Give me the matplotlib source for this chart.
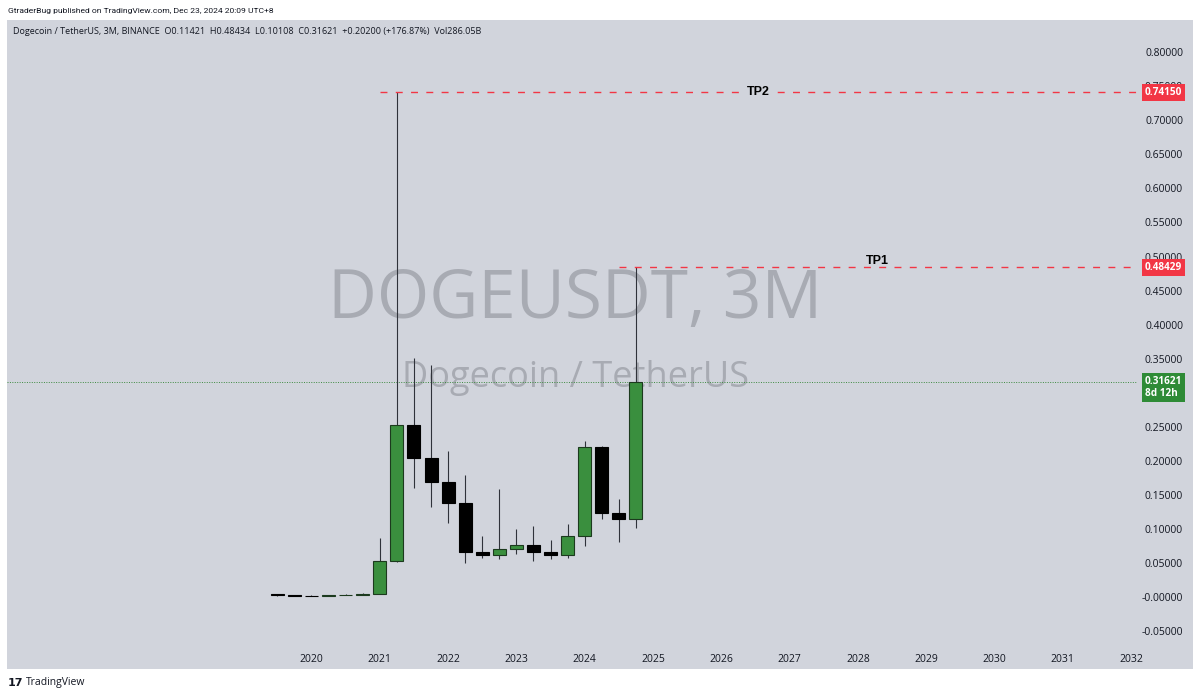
import matplotlib
matplotlib.use("Agg")
import matplotlib.pyplot as plt
import matplotlib.transforms as mtransforms
from matplotlib import font_manager

# ---------------- data ----------------
quarters = ["2019Q3", "2019Q4", "2020Q1", "2020Q2", "2020Q3", "2020Q4",
            "2021Q1", "2021Q2", "2021Q3", "2021Q4", "2022Q1", "2022Q2",
            "2022Q3", "2022Q4", "2023Q1", "2023Q2", "2023Q3", "2023Q4",
            "2024Q1", "2024Q2", "2024Q3", "2024Q4"]
opens = [0.00406, 0.00245, 0.00202, 0.00189, 0.00246, 0.00262,
         0.00470, 0.0535, 0.2530, 0.2045, 0.1693, 0.1376,
         0.0665, 0.0617, 0.0700, 0.0764, 0.0665, 0.0617,
         0.0896, 0.2207, 0.1238, 0.11421]
highs = [0.00450, 0.00290, 0.00300, 0.00290, 0.00500, 0.00580,
         0.0870, 0.7415, 0.3514, 0.3407, 0.2148, 0.1791,
         0.0896, 0.1581, 0.0999, 0.1047, 0.0837, 0.1072,
         0.2291, 0.2215, 0.1439, 0.48434]
lows = [0.00208, 0.00196, 0.00120, 0.00178, 0.00240, 0.00232,
        0.00460, 0.0515, 0.1605, 0.1317, 0.1082, 0.0504,
        0.0568, 0.0565, 0.0627, 0.0533, 0.0554, 0.0568,
        0.0753, 0.1141, 0.0812, 0.10108]
closes = [0.00245, 0.00202, 0.00189, 0.00246, 0.00262, 0.00470,
          0.0535, 0.2530, 0.2045, 0.1693, 0.1376, 0.0665,
          0.0617, 0.0700, 0.0764, 0.0665, 0.0617, 0.0896,
          0.2207, 0.1238, 0.11421, 0.31621]

year_ticks = list(range(2020, 2033))
price_ticks = [0.80, 0.75, 0.70, 0.65, 0.60, 0.55, 0.50, 0.45, 0.40,
               0.35, 0.30, 0.25, 0.20, 0.15, 0.10, 0.05, 0.0, -0.05]
price_labels = ["0.80000", "0.75000", "0.70000", "0.65000", "0.60000",
                "0.55000", "0.50000", "0.45000", "0.40000", "0.35000",
                "0.30000", "0.25000", "0.20000", "0.15000", "0.10000",
                "0.05000", "-0.00000", "-0.05000"]

tp_levels = [0.74150, 0.48429]
tp_names = ["TP2", "TP1"]
tp_anchor_quarter = ["2021Q2", "2024Q4"]
tp_text_year = [2026.54, 2028.28]
last_price = 0.31621
countdown = "8d 12h"

header_top = "GtraderBug published on TradingView.com, Dec 23, 2024 20:09 UTC+8"
header_legend = ("Dogecoin / TetherUS, 3M, BINANCE  O0.11421  H0.48434  "
                 "L0.10108  C0.31621  +0.20200 (+176.87%)  Vol286.05B")
watermark = "DOGEUSDT, 3M"
watermark_sub = "Dogecoin / TetherUS"

# ---------------- style ----------------
BG = "#d1d4dc"
GREEN = "#3a8f3e"
GREEN_EDGE = "#1c3a1e"
RED = "#f23645"
TXT = "#131722"
FONT = ["Open Sans", "DejaVu Sans"]

installed = {f.name for f in font_manager.fontManager.ttflist}
if "Liberation Sans Narrow" in installed:
    TOP_FONT, TOP_SIZE = ["Liberation Sans Narrow"], 7.0
else:
    TOP_FONT, TOP_SIZE = ["Roboto", "DejaVu Sans"], 6.1

W, H = 1200, 697
fig = plt.figure(figsize=(W / 100, H / 100), dpi=100)
fig.patch.set_facecolor("white")

# panel in pixels
px_l, px_r, px_t, px_b = 7, 1193, 20, 669
ax = fig.add_axes([px_l / W, 1 - px_b / H, (px_r - px_l) / W, (px_b - px_t) / H])
ax.set_facecolor(BG)
for s in ax.spines.values():
    s.set_visible(False)

xmin, xmax = 2015.542, 2032.906
ymin, ymax = -0.1057, 0.8473
ax.set_xlim(xmin, xmax)
ax.set_ylim(ymin, ymax)


def qx(q):
    return int(q[:4]) + (int(q[5]) - 1) / 4.0


xs = [qx(q) for q in quarters]
body_w = 0.19

# wicks
ax.vlines(xs, lows, highs, colors="#2f323a", linewidth=0.8, zorder=3)
# bodies
for x, o, c in zip(xs, opens, closes):
    up = c >= o
    ax.bar(x, abs(c - o), bottom=min(o, c), width=body_w,
           color=GREEN if up else "black",
           edgecolor=GREEN_EDGE if up else "black",
           linewidth=0.8, zorder=4)

# ticks
ax.set_xticks(year_ticks)
ax.set_xticklabels([str(y) for y in year_ticks])
ax.tick_params(axis="x", length=0, pad=-11.0, labelsize=7.5, labelcolor=TXT)
ax.yaxis.tick_right()
ax.set_yticks(price_ticks)
ax.set_yticklabels(price_labels)
ax.tick_params(axis="y", length=0, pad=-7.2, labelsize=7.5, labelcolor=TXT)
for lab in ax.get_yticklabels():
    lab.set_horizontalalignment("right")
for lab in ax.get_xticklabels() + ax.get_yticklabels():
    lab.set_fontfamily(FONT)

# watermark
ax.text(0.479, 0.5686, watermark, transform=ax.transAxes, ha="center",
        va="center", fontsize=48.5, color="#a8abb3", family=FONT, zorder=1)
ax.text(0.479, 0.448, watermark_sub, transform=ax.transAxes, ha="center",
        va="center", fontsize=26, color="#a8abb3", family=FONT, zorder=1)

# x of price-scale tags in data units
tag_left_px = 1137
x_tag = xmin + (tag_left_px - px_l) / (px_r - px_l) * (xmax - xmin)
blend = mtransforms.blended_transform_factory(ax.transAxes, ax.transData)
tag_right_ax = (1182 - px_l) / (px_r - px_l)

# last price dotted line
ax.plot([xmin, x_tag], [last_price, last_price], color="#3d8b40",
        linestyle=(0, (1, 1.5)), linewidth=0.7, zorder=2)
ax.text(tag_right_ax, last_price - 0.0085, f"{last_price:.5f}\n{countdown}",
        transform=blend, ha="right", va="center", fontsize=7.2,
        fontweight="bold", color="white", family=FONT, linespacing=1.05,
        multialignment="left",
        bbox=dict(boxstyle="square,pad=0.3", fc="#2e8b36", ec="none"),
        zorder=6)

# TP lines
for lvl, name, aq, ty in zip(tp_levels, tp_names, tp_anchor_quarter, tp_text_year):
    x0 = qx(aq) - 0.25
    ax.plot([x0, x_tag], [lvl, lvl], color=RED, linestyle=(0, (5, 6)),
            linewidth=1.0, zorder=5)
    dy = 0.0 if name == "TP2" else 0.009
    ax.text(ty, lvl + dy, name, ha="center", va="center", fontsize=9,
            fontweight="bold", color="black", family=["Liberation Sans", "DejaVu Sans"],
            bbox=dict(boxstyle="square,pad=0.15", fc=BG, ec="none") if name == "TP2" else None,
            zorder=6)
    ax.text(tag_right_ax, lvl, f"{lvl:.5f}", transform=blend, ha="right",
            va="center", fontsize=7.2, fontweight="bold", color="white",
            family=FONT,
            bbox=dict(boxstyle="square,pad=0.3", fc=RED, ec="none"), zorder=6)

# header texts
fig.text(8 / W, 1 - 11 / H, header_top, ha="left", va="center", fontsize=TOP_SIZE,
         color=TXT, family=TOP_FONT)
fig.text(13 / W, 1 - 32 / H, header_legend, ha="left", va="center",
         fontsize=6.5, color=TXT, family=FONT)

# footer logo
fig.text(8 / W, 1 - 683 / H, "17", ha="left", va="center", fontsize=8,
         fontweight="heavy", color=TXT, family=["DejaVu Sans"])
fig.text(26 / W, 1 - 683 / H, "TradingView", ha="left", va="center",
         fontsize=7.5, color=TXT, family=FONT)

fig.savefig("out.png", dpi=100, facecolor=fig.get_facecolor())
